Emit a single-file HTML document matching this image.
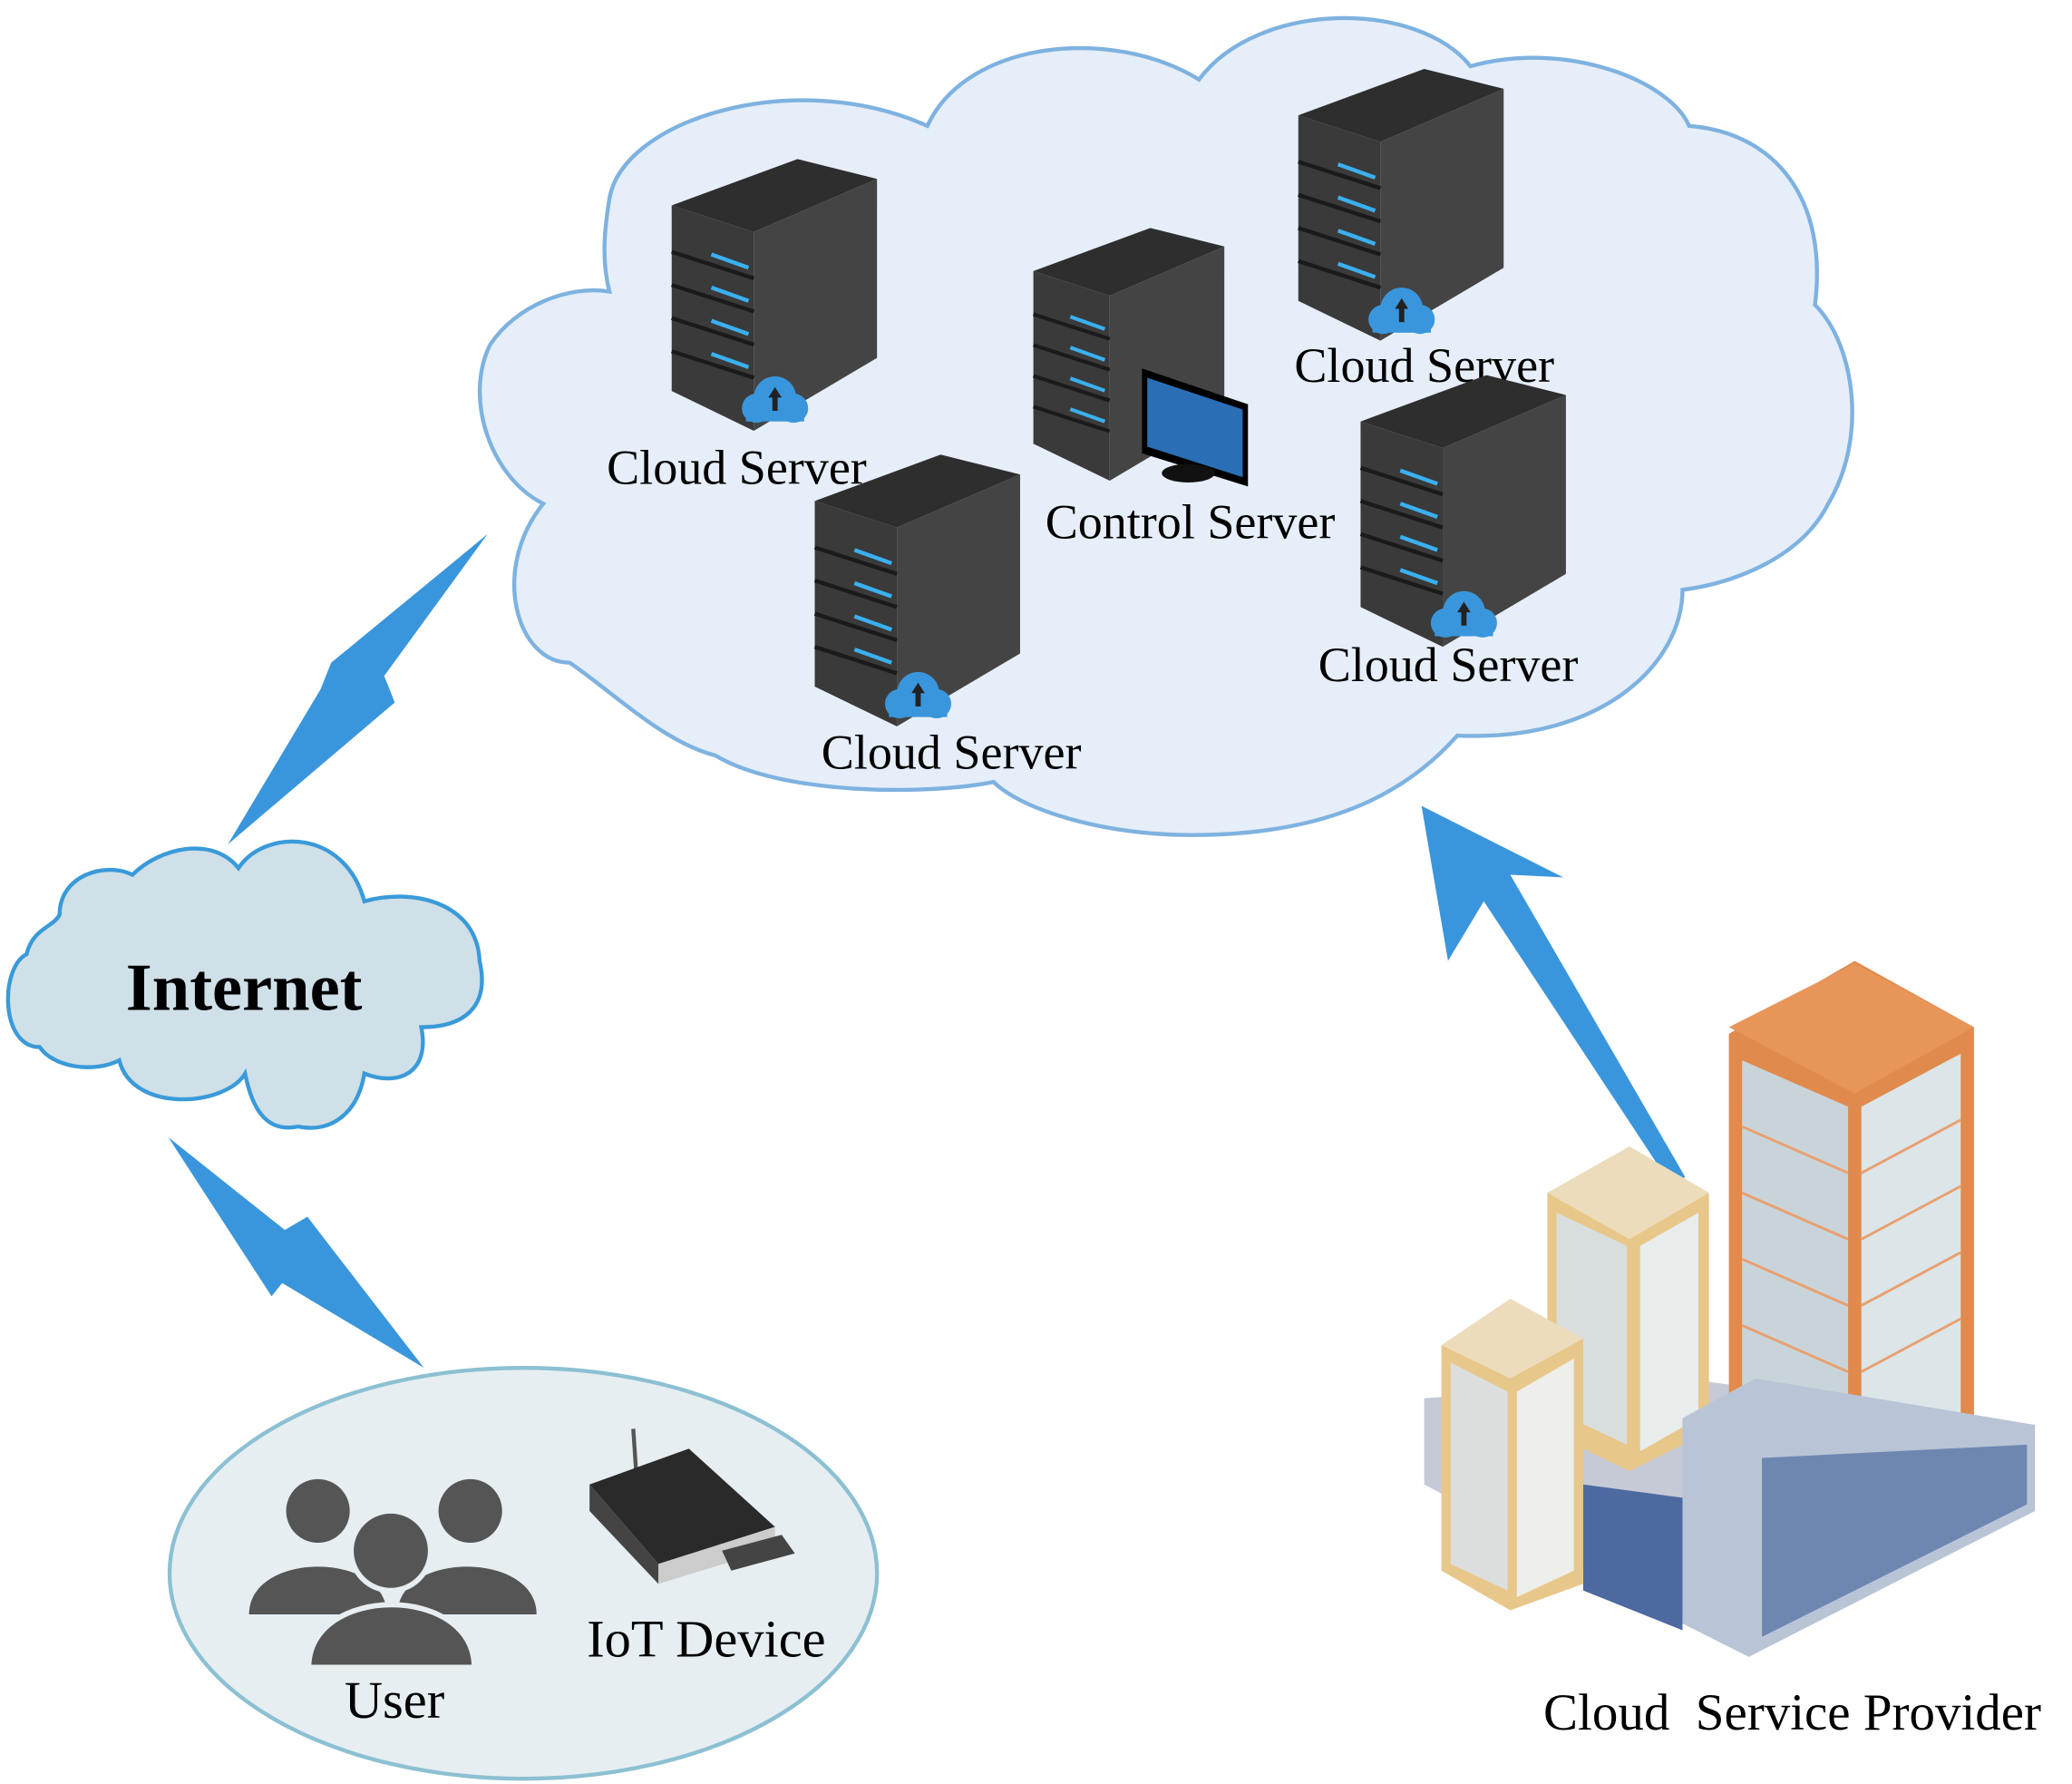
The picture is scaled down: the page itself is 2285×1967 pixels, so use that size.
<!DOCTYPE html>
<html><head><meta charset="utf-8"><style>
html,body{margin:0;padding:0;background:#fff}
svg{display:block}
text{font-family:"Liberation Serif",serif;fill:#000}
</style></head><body>
<svg width="2285" height="1967" viewBox="0 0 1564 1346" preserveAspectRatio="none" xmlns="http://www.w3.org/2000/svg">
<defs>
<g id="srv">
 <polygon points="0,35 95,0 155,15 62,55" fill="#2e2e2e"/>
 <polygon points="0,35 62,55 62,205 0,175" fill="#3a3a3a"/>
 <polygon points="62,55 155,15 155,150 62,205" fill="#444"/>
 <g stroke="#1a1a1a" stroke-width="3">
  <line x1="0" y1="70" x2="62" y2="90"/><line x1="0" y1="95" x2="62" y2="115"/><line x1="0" y1="120" x2="62" y2="140"/><line x1="0" y1="145" x2="62" y2="165"/>
 </g>
 <g stroke="#3ab0f0" stroke-width="3">
  <line x1="30" y1="72" x2="58" y2="82"/><line x1="30" y1="97" x2="58" y2="107"/><line x1="30" y1="122" x2="58" y2="132"/><line x1="30" y1="147" x2="58" y2="157"/>
 </g>
</g>
<g id="cic">
 <circle cx="0" cy="0" r="16" fill="#3a96dc"/><circle cx="-14" cy="8" r="11" fill="#3a96dc"/><circle cx="14" cy="8" r="11" fill="#3a96dc"/>
 <rect x="-22" y="6" width="44" height="12" fill="#3a96dc"/>
 <path d="M0,-8 L-5,0 L-2,0 L-2,10 L2,10 L2,0 L5,0Z" fill="#222"/>
</g>
</defs>
<path d="M460,150 C470,90 600,50 700,95 C730,30 840,20 905,60 C950,0 1070,0 1110,50 C1180,30 1260,60 1275,95 C1340,100 1380,150 1370,230 C1400,260 1410,330 1380,380 C1360,420 1310,440 1270,445 C1270,500 1210,560 1100,555 C1060,600 1000,630 900,630 C830,630 770,610 750,590 C700,600 590,600 540,570 C500,560 460,520 430,500 C390,500 370,430 410,380 C370,360 350,300 370,260 C390,230 430,215 460,220 C455,200 455,180 460,150Z" fill="#e6eef9" stroke="#7eb2e0" stroke-width="3"/>
<path d="M45,690 C45,660 80,650 100,660 C120,640 160,630 180,655 C200,625 260,625 275,680 C310,670 360,680 362,725 C370,760 350,775 318,775 C325,810 300,820 275,810 C270,840 250,855 225,850 C200,855 190,835 185,810 C170,835 100,840 90,800 C70,810 40,805 30,790 C0,790 0,730 20,720 C25,700 40,700 45,690Z" fill="#cfe0e8" stroke="#3a9ad9" stroke-width="3"/>
<text x="95" y="762" font-size="51" font-weight="bold">Internet</text>
<polygon points="368,403 290,510 298,530 172,637 242,520 250,500" fill="#3a96dc"/>
<polygon points="127,858 215,928 232,918 320,1032 213,968 205,978" fill="#3a96dc"/>
<ellipse cx="395" cy="1187" rx="267" ry="155" fill="#e6eef2" stroke="#8cc0d2" stroke-width="3"/>
<g fill="#555">
 <circle cx="240" cy="1140" r="24"/><path d="M188,1218 C188,1170 292,1170 292,1218Z"/>
 <circle cx="355" cy="1140" r="24"/><path d="M300,1218 C300,1170 405,1170 405,1218Z"/>
 <circle cx="295" cy="1170" r="30" stroke="#e6eef2" stroke-width="4"/><path d="M233,1258 C233,1195 358,1195 358,1258Z" stroke="#e6eef2" stroke-width="4"/>
</g>
<text x="260" y="1296" font-size="40">User</text>
<line x1="478" y1="1078" x2="480" y2="1108" stroke="#555" stroke-width="3"/>
<polygon points="445,1120 520,1093 585,1152 497,1180" fill="#2a2a2a"/>
<polygon points="445,1120 497,1180 497,1195 445,1140" fill="#444"/>
<polygon points="497,1180 585,1152 585,1168 497,1195" fill="#ccc"/>
<polygon points="545,1170 590,1158 600,1172 552,1185" fill="#444"/>
<text x="443" y="1250" font-size="40">IoT Device</text>
<use href="#srv" x="507" y="120"/><use href="#cic" x="585" y="300"/>
<text x="458" y="365" font-size="37">Cloud Server</text>
<use href="#srv" x="780" y="172" transform="translate(780,172) scale(0.93) translate(-780,-172)"/>
<polygon points="862,278 942,305 942,367 862,342" fill="#000"/>
<polygon points="866,285 938,309 938,360 866,337" fill="#2a6fb5"/>
<ellipse cx="897" cy="357" rx="20" ry="7" fill="#111"/>
<text x="789" y="406" font-size="37">Control Server</text>
<use href="#srv" x="980" y="52"/><use href="#cic" x="1058" y="233"/>
<text x="977" y="288" font-size="37">Cloud Server</text>
<use href="#srv" x="1027" y="283"/><use href="#cic" x="1105" y="462"/>
<text x="995" y="514" font-size="37">Cloud Server</text>
<use href="#srv" x="615" y="343"/><use href="#cic" x="693" y="523"/>
<text x="620" y="580" font-size="37">Cloud Server</text>
<polygon points="1272,888 1140,660 1180,662 1073,608 1093,725 1120,680 1262,895" fill="#3a96dc"/>
<polygon points="1075,1055 1270,1040 1536,1075 1536,1140 1320,1250 1075,1120" fill="#c5cad6"/>
<polygon points="1305,780 1400,725 1490,775 1490,1080 1400,1130 1305,1080" fill="#e08a4d"/>
<polygon points="1315,800 1395,835 1395,1110 1315,1070" fill="#c9d4da"/>
<polygon points="1405,835 1480,795 1480,1070 1405,1110" fill="#dce5e8"/>
<g stroke="#e8a070" stroke-width="2">
 <line x1="1315" y1="850" x2="1395" y2="885"/><line x1="1315" y1="900" x2="1395" y2="935"/><line x1="1315" y1="950" x2="1395" y2="985"/><line x1="1315" y1="1000" x2="1395" y2="1035"/>
 <line x1="1405" y1="885" x2="1480" y2="845"/><line x1="1405" y1="935" x2="1480" y2="895"/><line x1="1405" y1="985" x2="1480" y2="945"/><line x1="1405" y1="1035" x2="1480" y2="995"/>
</g>
<polygon points="1305,775 1400,727 1490,775 1400,825" fill="#e8955a"/>
<polygon points="1168,900 1230,865 1290,900 1290,1080 1230,1110 1168,1080" fill="#e8c78a"/>
<polygon points="1175,915 1228,940 1228,1090 1175,1065" fill="#d8dede"/>
<polygon points="1238,940 1282,915 1282,1070 1238,1095" fill="#e8eceb"/>
<polygon points="1168,900 1230,865 1290,900 1230,935" fill="#ecdcbb"/>
<polygon points="1270,1070 1325,1040 1536,1075 1536,1140 1320,1250 1270,1225" fill="#b9c4d6"/>
<polygon points="1330,1100 1530,1090 1530,1135 1330,1235" fill="#5b78a8" opacity="0.8"/>
<polygon points="1195,1120 1270,1130 1270,1230 1195,1200" fill="#4d6aa0"/>
<polygon points="1088,1015 1140,980 1195,1010 1195,1195 1140,1215 1088,1185" fill="#e8c78a"/>
<polygon points="1095,1028 1138,1050 1138,1200 1095,1180" fill="#dcdede"/>
<polygon points="1145,1050 1188,1025 1188,1185 1145,1205" fill="#eeeeea"/>
<polygon points="1088,1015 1140,980 1195,1010 1140,1040" fill="#ecdcbb"/>
<text x="1165" y="1305" font-size="39">Cloud&#160; Service Provider</text>
</svg>
</body></html>
